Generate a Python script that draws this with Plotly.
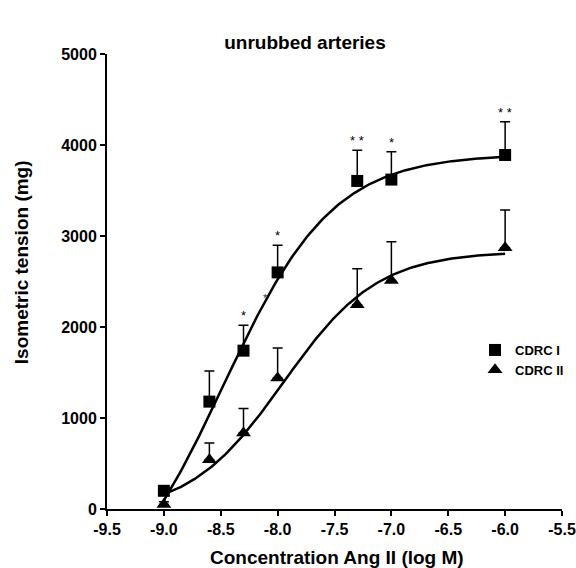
import numpy as np
import plotly.graph_objects as go

# ---- data ----
log_conc = [-9.0, -8.6, -8.3, -8.0, -7.3, -7.0, -6.0]
cdrc1_mean = [200, 1180, 1740, 2600, 3605, 3620, 3890]
cdrc1_sem = [50, 337, 280, 297, 336, 305, 366]
cdrc2_mean = [50, 540, 835, 1440, 2245, 2510, 2870]
cdrc2_sem = [30, 185, 270, 330, 395, 427, 416]

# sigmoidal (4-parameter) fit parameters: bottom, top, logEC50, hill slope
fit1 = dict(bottom=-1200, top=3900, logec50=-8.48, hill=0.9)
fit2 = dict(bottom=-50, top=2830, logec50=-7.95, hill=1.05)
fit_range = [-9.0, -6.0]

# significance marks (x, label) placed above CDRC I error bars
star_x = [-8.3, -8.0, -7.3, -7.0, -6.0]
star_text = ["*", "*", "* *", "*", "* *"]
extra_star = (-8.105, 2320)

x_ticks = [-9.5, -9.0, -8.5, -8.0, -7.5, -7.0, -6.5, -6.0, -5.5]
y_ticks = [0, 1000, 2000, 3000, 4000, 5000]

FONT = "Liberation Sans"


def hill(x, p):
    x = np.asarray(x)
    return p["bottom"] + (p["top"] - p["bottom"]) / (1 + 10 ** ((p["logec50"] - x) * p["hill"]))


xs = np.linspace(fit_range[0], fit_range[1], 200)

fig = go.Figure()
fig.add_trace(go.Scatter(x=xs, y=hill(xs, fit1), mode="lines",
                         line=dict(color="black", width=2.5), showlegend=False,
                         hoverinfo="skip"))
fig.add_trace(go.Scatter(x=xs, y=hill(xs, fit2), mode="lines",
                         line=dict(color="black", width=2.5), showlegend=False,
                         hoverinfo="skip"))

fig.add_trace(go.Scatter(
    x=log_conc, y=cdrc1_mean, mode="markers", name="CDRC I",
    marker=dict(symbol="square", size=12, color="black", line=dict(width=0)),
    error_y=dict(type="data", array=cdrc1_sem, arrayminus=[0] * len(cdrc1_sem),
                 symmetric=False, color="black", thickness=1.5, width=5),
    cliponaxis=False))
fig.add_trace(go.Scatter(
    x=log_conc, y=cdrc2_mean, mode="markers", name="CDRC II",
    marker=dict(symbol="triangle-up", size=13, color="black", line=dict(width=0)),
    error_y=dict(type="data", array=cdrc2_sem, arrayminus=[0] * len(cdrc2_sem),
                 symmetric=False, color="black", thickness=1.5, width=5),
    cliponaxis=False))

annotations = []
for sx, st in zip(star_x, star_text):
    i = log_conc.index(sx)
    top = cdrc1_mean[i] + cdrc1_sem[i]
    annotations.append(dict(x=sx, y=top, xref="x", yref="y", text=st,
                            showarrow=False, yanchor="bottom", yshift=0,
                            font=dict(family=FONT, size=13, color="black")))
annotations.append(dict(x=extra_star[0], y=extra_star[1], xref="x", yref="y", text="*",
                        showarrow=False, yanchor="middle",
                        font=dict(family=FONT, size=11, color="#333333")))

# axis titles
annotations.append(dict(text="Isometric tension (mg)", x=-0.1890, y=0.5424,
                        xref="paper", yref="paper", textangle=-90, showarrow=False,
                        xanchor="center", yanchor="middle",
                        font=dict(family=FONT, size=19, color="black", weight="bold")))
annotations.append(dict(text="Concentration Ang II (log M)", x=0.505, y=-0.106,
                        xref="paper", yref="paper", showarrow=False,
                        xanchor="center", yanchor="middle",
                        font=dict(family=FONT, size=19, color="black", weight="bold")))

fig.update_layout(
    width=576, height=568,
    margin=dict(l=107, r=14, t=54, b=59, autoexpand=False),
    paper_bgcolor="white", plot_bgcolor="white",
    title=dict(text="unrubbed arteries", x=305 / 576, xanchor="center",
               y=1 - 42 / 568, yanchor="middle",
               font=dict(family=FONT, size=19, color="black", weight="bold")),
    xaxis=dict(range=[-9.5, -5.5], tickvals=x_ticks, ticktext=[f"{v:.1f}" for v in x_ticks],
               showgrid=False, zeroline=False, showline=True, linecolor="black",
               linewidth=2, ticks="outside", ticklen=5, tickwidth=2, tickcolor="black",
               tickfont=dict(family=FONT, size=16, color="black", weight="bold")),
    yaxis=dict(range=[0, 5000], tickvals=y_ticks, showgrid=False, zeroline=False,
               showline=True, linecolor="black", linewidth=2, ticks="outside",
               ticklen=5, tickwidth=2, tickcolor="black",
               tickfont=dict(family=FONT, size=16, color="black", weight="bold")),
    legend=dict(x=(475 - 107) / 455, y=(509 - 335) / 455, xanchor="left", yanchor="top",
                bgcolor="rgba(0,0,0,0)", tracegroupgap=0, itemwidth=30,
                font=dict(family=FONT, size=13, color="black", weight="bold")),
    annotations=annotations,
    showlegend=True,
)

fig.write_html("out.html")
